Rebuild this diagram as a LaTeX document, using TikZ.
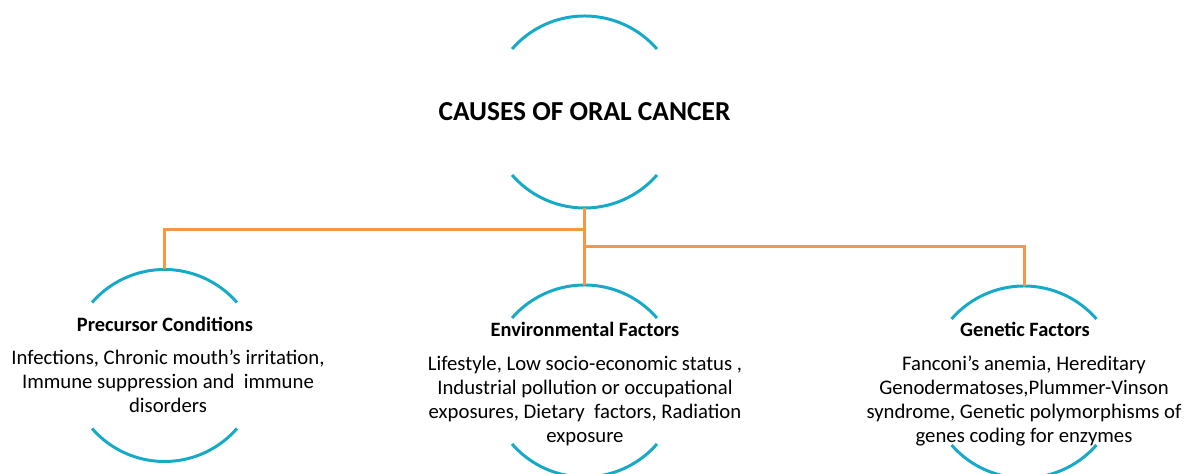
\documentclass[tikz,border=0pt]{standalone}
\usepackage{fontspec}
\setmainfont{Carlito}
\usetikzlibrary{positioning}
\definecolor{arccyan}{RGB}{23,170,200}
\definecolor{lineorange}{RGB}{247,150,70}

\begin{document}
\begin{tikzpicture}[ring/.style={circle, minimum size=3.84cm, inner sep=0pt, outer sep=0pt}, head/.style={font=\fontsize{11.6}{13}\selectfont\bfseries, anchor=base}, body/.style={font=\fontsize{11.8}{13.7}\selectfont, align=center, anchor=north, inner sep=0pt}, rim/.style={arccyan, line width=1.7pt}, link/.style={lineorange, line width=1.7pt}]
	\useasboundingbox (0,0) rectangle (23.78,9.48);
	\node[ring] (T) at (11.69,7.24) {};
	\node[ring] (PC) at (3.29,2.17) {};
	\node[ring] (EF) at (11.69,1.86) {};
	\node[ring] (GF) at (20.48,1.84) {};
	\node[font=\fontsize{15.6}{18}\selectfont\bfseries] (title) at (T.center) {CAUSES OF ORAL CANCER};
	\node[head] (PCh) at (3.30,2.84) {Precursor Conditions};
	\node[body] (PCb) at (3.36,2.49) {Infections, Chronic mouth’s irritation,\\Immune suppression and\ \ immune\\disorders};
	\node[head] (EFh) at (11.70,2.74) {Environmental Factors};
	\node[body] (EFb) at (11.70,2.37) {Lifestyle, Low socio-economic status ,\\Industrial pollution or occupational\\exposures, Dietary\ \ factors, Radiation\\exposure};
	\node[head] (GFh) at (20.50,2.74) {Genetic Factors};
	\node[body] (GFb) at (20.48,2.37) {Fanconi’s anemia, Hereditary\\Genodermatoses,Plummer-Vinson\\syndrome, Genetic polymorphisms of\\genes coding for enzymes};
	\foreach \c in {T, PC, EF, GF} {
		\draw[rim] (\c.41) arc[start angle=41, end angle=139, radius=1.92cm];
		\draw[rim] (\c.-41) arc[start angle=-41, end angle=-139, radius=1.92cm];
	}
	\coordinate (J1) at (11.69,4.88);
	\coordinate (J2) at (11.69,4.54);
	\draw[link] (T.south) -- (EF.north);
	\draw[link] (J1) -| (PC.north);
	\draw[link] (J2) -| (GF.north);
\end{tikzpicture}
\end{document}
